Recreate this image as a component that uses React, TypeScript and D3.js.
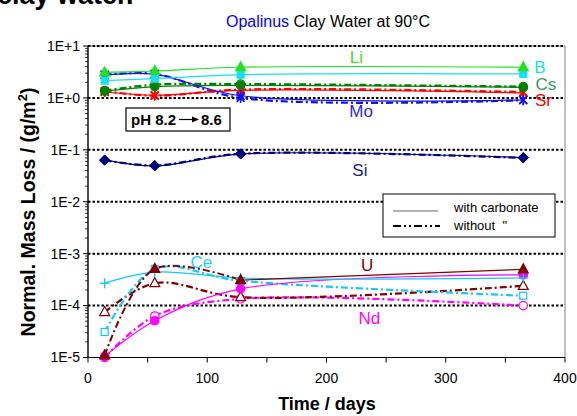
import React from "react";
import * as d3 from "d3";

// ---------- data ----------
const days = [14, 56, 128, 365];

const liWith = [3.1, 3.3, 3.9, 3.9];
const bWith = [2.15, 2.35, 2.8, 2.9];
const csWith = [1.35, 1.65, 1.75, 1.6];
const csWithout = [1.38, 1.8, 1.85, 1.65];
const srWith = [1.3, 1.13, 1.4, 1.25];
const srWithout = [1.35, 1.1, 1.45, 1.3];
const moWith = [2.75, 2.85, 1.1, 0.92];
const moWithout = [2.8, 2.9, 1.0, 0.9];
const siWith = [0.064, 0.049, 0.083, 0.071];
const siWithout = [0.063, 0.05, 0.084, 0.07];
const ceWith = [2.7e-4, 4.4e-4, 3.4e-4, 3.4e-4];
const ceWithout = [3.1e-5, 5.1e-4, 3.0e-4, 1.55e-4];
const uWith = [1.1e-5, 5.1e-4, 3.1e-4, 5.0e-4];
const uWithout = [7.5e-5, 2.7e-4, 1.45e-4, 2.4e-4];
const ndWith = [1.05e-5, 5.1e-5, 2.1e-4, 3.9e-4];
const ndWithout = [1.0e-5, 6.3e-5, 1.35e-4, 1.0e-4];

const xTickValues = [0, 100, 200, 300, 400];
const xMinorTicks = [0, 50, 100, 150, 200, 250, 300, 350, 400];
const yTickValues = [1e-5, 1e-4, 1e-3, 1e-2, 1e-1, 1, 10];
const yTickLabels = ["1E-5", "1E-4", "1E-3", "1E-2", "1E-1", "1E+0", "1E+1"];

// element labels: [text, time, value]
const elementNames = ["Li", "B", "Cs", "Sr", "Mo", "Si", "Ce", "U", "Nd"];
const labelTimes = [225, 379, 384, 382, 229, 228, 95, 234, 236];
const labelValues = [6.0, 3.85, 1.89, 0.92, 0.57, 0.04, 7.0e-4, 6.1e-4, 5.8e-5];

// ---------- styles ----------
const FONT = "Arial, 'Liberation Sans', sans-serif";
const C = {
  Li: "#22e022",
  B: "#18e0f0",
  Cs: "#008000",
  Sr: "#ff0000",
  Mo: "#1010f0",
  Si: "#000080",
  Ce: "#10c8ff",
  U: "#800000",
  Nd: "#ff00ff",
};
const labelColors: Record<string, string> = {
  Li: "#33dd33",
  B: "#22ddee",
  Cs: "#339966",
  Sr: "#ff0000",
  Mo: "#2a2ad6",
  Si: "#1a1a80",
  Ce: "#22ccff",
  U: "#800000",
  Nd: "#ff00ff",
};

type Series = {
  values: number[];
  color: string;
  dashed: boolean;
  marker: string;
  filled: boolean;
  split?: number;
};

const series: Series[] = [
  { values: siWithout, color: C.Si, dashed: true, marker: "diamond", filled: true },
  { values: siWith, color: C.Si, dashed: false, marker: "diamond", filled: true },
  { values: moWithout, color: C.Mo, dashed: true, marker: "star", filled: true },
  { values: srWithout, color: C.Sr, dashed: true, marker: "star", filled: true },
  { values: csWithout, color: C.Cs, dashed: true, marker: "circle", filled: false },
  { values: srWith, color: C.Sr, dashed: false, marker: "star", filled: true },
  { values: csWith, color: C.Cs, dashed: false, marker: "circle", filled: true },
  { values: moWith, color: C.Mo, dashed: false, marker: "star", filled: true },
  { values: bWith, color: C.B, dashed: false, marker: "square", filled: true },
  { values: liWith, color: C.Li, dashed: false, marker: "triangle", filled: true },
  { values: ndWithout, color: C.Nd, dashed: true, marker: "circle", filled: false },
  { values: uWithout, color: C.U, dashed: true, marker: "triangle", filled: false },
  { values: ceWithout, color: C.Ce, dashed: true, marker: "square", filled: false },
  { values: ndWith, color: C.Nd, dashed: false, marker: "circle", filled: true },
  { values: ceWith, color: C.Ce, dashed: false, marker: "plus", filled: true },
  { values: uWith, color: C.U, dashed: false, marker: "triangle", filled: true, split: 2 },
];

const W = 577;
const H = 416;
const left = 88;
const right = 565;
const top = 46;
const bottom = 357.5;

const DASH = "7,3,2,3";

function Marker({ shape, cx, cy, color, filled }: any) {
  const fill = filled ? color : "white";
  switch (shape) {
    case "triangle":
      return (
        <path
          d={`M${cx},${cy - 5.5}L${cx - 5},${cy + 3.5}L${cx + 5},${cy + 3.5}Z`}
          fill={fill}
          stroke={color}
          strokeWidth={1.2}
        />
      );
    case "square":
      return <rect x={cx - 3.5} y={cy - 3.5} width={7} height={7} fill={fill} stroke={color} strokeWidth={1.2} />;
    case "circle":
      return <circle cx={cx} cy={cy} r={4.2} fill={fill} stroke={color} strokeWidth={1.2} />;
    case "diamond":
      return (
        <path
          d={`M${cx},${cy - 5}L${cx + 5},${cy}L${cx},${cy + 5}L${cx - 5},${cy}Z`}
          fill={fill}
          stroke={color}
          strokeWidth={1}
        />
      );
    case "star":
      return (
        <g stroke={color} strokeWidth={1.6}>
          <line x1={cx - 4} y1={cy - 4} x2={cx + 4} y2={cy + 4} />
          <line x1={cx - 4} y1={cy + 4} x2={cx + 4} y2={cy - 4} />
          <line x1={cx} y1={cy - 5} x2={cx} y2={cy + 5} />
        </g>
      );
    case "plus":
      return (
        <g stroke={color} strokeWidth={1.3}>
          <line x1={cx - 5} y1={cy} x2={cx + 5} y2={cy} />
          <line x1={cx} y1={cy - 5} x2={cx} y2={cy + 5} />
        </g>
      );
    default:
      return null;
  }
}

export default function App() {
  const x = d3.scaleLinear().domain([0, 400]).range([left, right]);
  const y = d3.scaleLog().domain([1e-5, 10]).range([bottom, top]);

  const line = d3
    .line<[number, number]>()
    .x((d) => x(d[0]))
    .y((d) => y(d[1]))
    .curve(d3.curveCatmullRom.alpha(0.5));

  const minorY: number[] = [];
  for (let e = -5; e < 1; e++) {
    for (let k = 2; k <= 9; k++) minorY.push(k * Math.pow(10, e));
  }

  return (
    <svg
      width={W}
      height={H}
      style={{ position: "fixed", left: 0, top: 0, background: "white" }}
      fontFamily={FONT}
    >
      <rect x={0} y={0} width={W} height={H} fill="white" />
      {/* cut-off heading */}
      <text x={-3} y={4} fontSize={27} fontWeight="bold" fill="#000">
        clay water.
      </text>
      {/* title */}
      <text x={328} y={27} fontSize={16} textAnchor="middle" fill="#000">
        <tspan fill="#0000ff">Opalinus</tspan> Clay Water at 90°C
      </text>

      {/* plot frame */}
      <rect x={left} y={top} width={right - left} height={bottom - top} fill="white" stroke="#808080" strokeWidth={1} />

      {/* grid lines */}
      {yTickValues.slice(1).map((v) => (
        <line
          key={"g" + v}
          x1={left}
          x2={right}
          y1={y(v)}
          y2={y(v)}
          stroke="#000"
          strokeWidth={2}
          strokeDasharray="2.5,2"
        />
      ))}

      {/* axes */}
      <line x1={left} x2={left} y1={top} y2={bottom} stroke="#000" strokeWidth={1.2} />
      <line x1={left} x2={right} y1={bottom} y2={bottom} stroke="#000" strokeWidth={1.2} />
      {yTickValues.map((v) => (
        <line key={"yt" + v} x1={left - 5} x2={left} y1={y(v)} y2={y(v)} stroke="#000" />
      ))}
      {minorY.map((v) => (
        <line key={"ym" + v} x1={left - 3} x2={left} y1={y(v)} y2={y(v)} stroke="#000" strokeWidth={0.8} />
      ))}
      {xMinorTicks.map((v) => (
        <line key={"xt" + v} x1={x(v)} x2={x(v)} y1={bottom} y2={bottom + 5} stroke="#000" />
      ))}
      {yTickValues.map((v, i) => (
        <text key={"yl" + v} x={left - 8} y={y(v)} dy="0.35em" fontSize={14} textAnchor="end" fill="#000">
          {yTickLabels[i]}
        </text>
      ))}
      {xTickValues.map((v) => (
        <text key={"xl" + v} x={x(v)} y={bottom + 25} fontSize={14} textAnchor="middle" fill="#000">
          {v}
        </text>
      ))}

      {/* axis titles */}
      <text x={327} y={410} fontSize={18} fontWeight="bold" textAnchor="middle" fill="#000">
        Time / days
      </text>
      <text
        transform={`translate(35,212) rotate(-90)`}
        fontSize={19.5}
        fontWeight="bold"
        textAnchor="middle"
        fill="#000"
      >
        Normal. Mass Loss / (g/m
        <tspan dy={-8} fontSize={13}>
          2
        </tspan>
        <tspan dy={8}>)</tspan>
      </text>

      {/* series lines */}
      {series.map((s, i) => {
        const pts: [number, number][] = days.map((d, j) => [d, s.values[j]]);
        if (s.split !== undefined) {
          const a = pts.slice(0, s.split + 1);
          const b = pts.slice(s.split);
          return (
            <g key={"s" + i}>
              <path d={line(a) || ""} fill="none" stroke={s.color} strokeWidth={2} strokeDasharray={DASH} />
              <path d={line(b) || ""} fill="none" stroke={s.color} strokeWidth={1.2} />
            </g>
          );
        }
        return (
          <path
            key={"s" + i}
            d={line(pts) || ""}
            fill="none"
            stroke={s.color}
            strokeWidth={s.dashed ? 2.2 : 1.2}
            strokeDasharray={s.dashed ? DASH : undefined}
          />
        );
      })}

      {/* markers */}
      {series.map((s, i) =>
        days.map((d, j) => (
          <Marker
            key={"m" + i + "-" + j}
            shape={s.marker}
            cx={x(d)}
            cy={y(s.values[j])}
            color={s.color}
            filled={s.filled}
          />
        ))
      )}

      {/* element labels */}
      {elementNames.map((n, i) => (
        <text
          key={"el" + n}
          x={x(labelTimes[i])}
          y={y(labelValues[i])}
          dy="0.35em"
          fontSize={17}
          textAnchor="middle"
          fill={labelColors[n]}
        >
          {n}
        </text>
      ))}

      {/* pH box */}
      <rect x={126} y={108} width={104} height={23} fill="white" stroke="#000" strokeWidth={1.2} />
      <text x={131} y={125} fontSize={15} fontWeight="bold" fill="#000">
        pH 8.2
      </text>
      <line x1={179} x2={194} y1={119.5} y2={119.5} stroke="#000" strokeWidth={1.2} />
      <path d="M199,119.5L192,116.5L192,122.5Z" fill="#000" />
      <text x={201} y={125} fontSize={15} fontWeight="bold" fill="#000">
        8.6
      </text>

      {/* legend */}
      <rect x={383} y={194} width={172} height={43} fill="white" stroke="#000" strokeWidth={1} />
      <line x1={393} x2={438} y1={211} y2={211} stroke="#666" strokeWidth={1.2} />
      <line x1={393} x2={440} y1={226} y2={226} stroke="#000" strokeWidth={2} strokeDasharray="8,3,2,3,2,3" />
      <text x={454} y={212} fontSize={13} fill="#000">
        with carbonate
      </text>
      <text x={454} y={230} fontSize={13} fill="#000" style={{ whiteSpace: "pre" }}>
        {"without  \""}
      </text>
    </svg>
  );
}
